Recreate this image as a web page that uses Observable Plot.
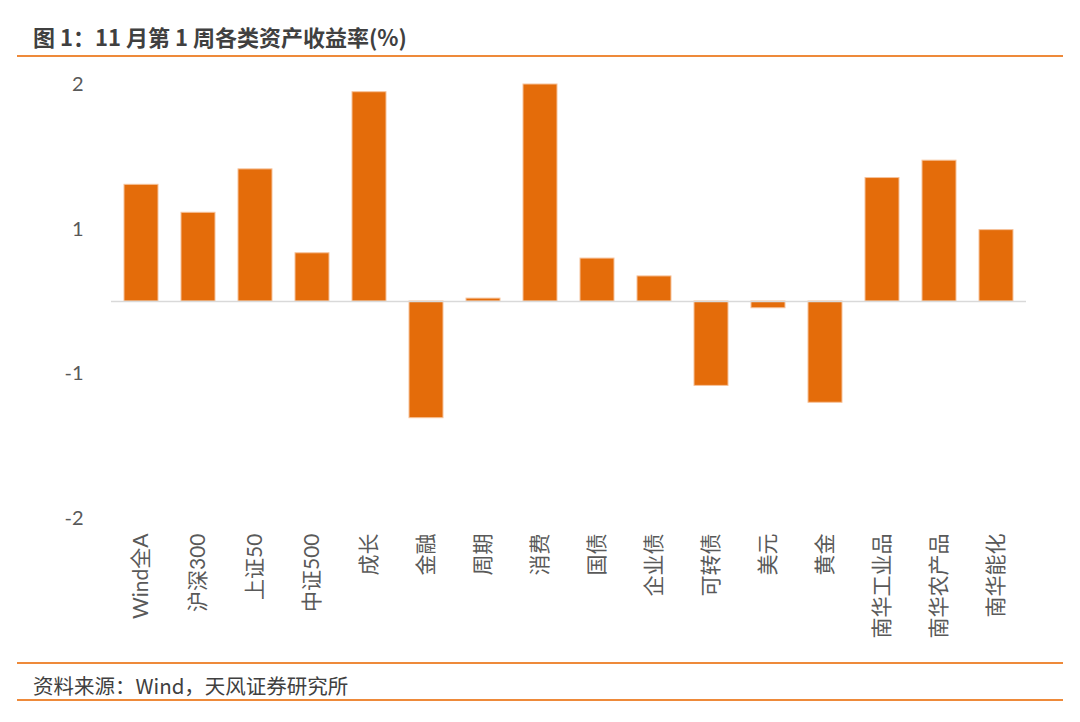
<!DOCTYPE html>
<html><head><meta charset="utf-8">
<script src="https://cdn.jsdelivr.net/npm/d3@7"></script>
<script src="https://cdn.jsdelivr.net/npm/@observablehq/plot@0.6"></script>
<style>
body{margin:0;background:#fff;}
#wrap{position:relative;width:1080px;height:722px;overflow:hidden;font-family:"Noto Sans CJK SC",sans-serif;}
#title{position:absolute;left:33px;top:20px;font-size:22px;font-weight:bold;color:#404040;line-height:32px;white-space:nowrap;}
.line{position:absolute;left:17px;width:1046px;height:2px;background:#EE8A3A;}
#src{position:absolute;left:33px;top:672px;font-size:20.5px;color:#404040;line-height:26px;white-space:nowrap;}
#chart{position:absolute;left:0;top:60px;}
</style></head><body>
<div id="wrap">
<div id="title">图 1：11 月第 1 周各类资产收益率(%)</div>
<div class="line" style="top:55px"></div>
<div id="chart"></div>
<div class="line" style="top:662px"></div>
<div id="src">资料来源：Wind，天风证券研究所</div>
<div class="line" style="top:699px"></div>
</div>
<script>
const categories = ["Wind全A","沪深300","上证50","中证500","成长","金融","周期","消费","国债","企业债","可转债","美元","黄金","南华工业品","南华农产品","南华能化"];
const returns = [1.21, 0.92, 1.37, 0.50, 2.17, -1.21, 0.03, 2.25, 0.445, 0.26, -0.875, -0.07, -1.05, 1.28, 1.46, 0.74];
const tickValues = [2.25, 0.75, -0.75, -2.25];
const tickLabels = ["2", "1", "-1", "-2"];

const data = categories.map((c, i) => ({category: c, value: returns[i]}));

const chart = Plot.plot({
  width: 1080, height: 600,
  marginTop: 24, marginBottom: 142, marginLeft: 111, marginRight: 54,
  style: {fontFamily: '"Lato","Noto Sans CJK SC",sans-serif', fontSize: "20px", color: "#595959", background: "transparent"},
  x: {domain: categories, paddingInner: 0.4, paddingOuter: 0.2, axis: null},
  y: {domain: [-2.25, 2.25], axis: null},
  marks: [
    Plot.barY(data, {x: "category", y: "value", fill: "#E46C0A", stroke: "#F6C29A", strokeWidth: 1}),
    Plot.ruleY([0], {stroke: "#D9D9D9", strokeWidth: 1.5}),
    Plot.axisY(tickValues, {tickSize: 0, tickPadding: 28, label: null, tickFormat: d => tickLabels[tickValues.indexOf(d)], fontSize: 20, fill: "#595959"}),
    Plot.axisX({tickSize: 0, tickPadding: 15, tickRotate: -90, label: null, fontSize: 21, fill: "#595959"})
  ]
});
document.getElementById("chart").appendChild(chart);
</script>
</body></html>
